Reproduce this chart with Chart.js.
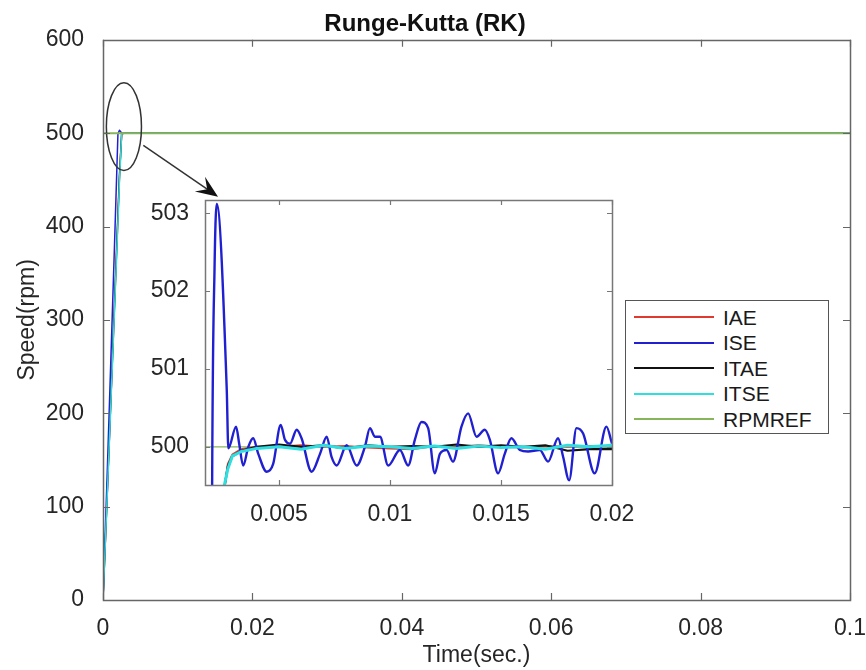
<!DOCTYPE html>
<html>
<head>
<meta charset="utf-8">
<script src="https://cdn.jsdelivr.net/npm/chart.js@4.4.0/dist/chart.umd.min.js"></script>
<style>
  body { margin: 0; background: #fff; }
  #wrap { position: relative; width: 866px; height: 670px; }
  #main { position: absolute; left: 0; top: 0; }
  #inset { position: absolute; left: 140px; top: 190px; }
  #legend {
    position: absolute; left: 625px; top: 300px; width: 204px; height: 134px;
    box-sizing: border-box; border: 1px solid #555; background: #fff;
    padding-top: 2px; font-family: 'Liberation Sans', Arial, sans-serif;
    font-size: 21px; color: #1a1a1a;
  }
  #legend .row { height: 25.5px; line-height: 25.5px; white-space: nowrap; }
  #legend .swatch { display: inline-block; width: 80px; margin-left: 8px; vertical-align: middle; }
  #legend .name { margin-left: 9px; vertical-align: middle; }
</style>
</head>
<body>
<div id="wrap">
  <canvas id="main" width="866" height="670"></canvas>
  <canvas id="inset" width="510" height="345"></canvas>
  <div id="legend"></div>
</div>
<script>
// Series names and colours (same order as the legend)
const seriesNames = ['IAE', 'ISE', 'ITAE', 'ITSE', 'RPMREF'];
const seriesColors = ['#e03a30', '#2020d0', '#111111', '#2fdede', '#86b55a'];
// drawing order: lower number is painted on top
const mainOrder = [5, 3, 4, 2, 1];
const insetOrder = [4, 2, 3, 1, 5];

// Main plot: full run 0..0.1 s
const mainTime = [0, 0.0005, 0.001, 0.0015, 0.002, 0.0022, 0.0025, 0.0028, 0.003, 0.005, 0.01, 0.02, 0.04, 0.06, 0.08, 0.1];
const mainIAE = [0, 100, 205, 310, 415, 455, 499.5, 499.9, 500, 500, 500, 500, 500, 500, 500, 500];
const mainISE = [0, 120, 245, 370, 499.4, 503.1, 500.2, 500.0, 500.2, 500.2, 499.8, 500, 500, 500, 500, 500];
const mainITAE = [0, 100, 203, 306, 410, 452, 499.4, 499.85, 499.95, 500, 500, 500, 500, 500, 500, 500];
const mainITSE = [0, 98, 200, 302, 405, 448, 499.5, 499.85, 499.93, 500, 500, 500, 500, 500, 500, 500];
const mainRef = [500, 500, 500, 500, 500, 500, 500, 500, 500, 500, 500, 500, 500, 500, 500, 500];

// Inset: zoom on 0.0017..0.02 s
const iseTime = [0.0019, 0.00199, 0.0021, 0.0022, 0.00265, 0.00272, 0.00307, 0.00321, 0.00339, 0.00362, 0.00384, 0.00407,
  0.00445, 0.00474, 0.00508, 0.00527, 0.0055, 0.0058, 0.00602, 0.00647, 0.00685, 0.00715, 0.00737, 0.0076, 0.00805,
  0.0085, 0.00887, 0.0091, 0.00932, 0.00955, 0.00992, 0.01045, 0.01082, 0.01112, 0.01142, 0.01172, 0.01202, 0.01225,
  0.01255, 0.01284, 0.01322, 0.01352, 0.0139, 0.01427, 0.0145, 0.01487, 0.01517, 0.01547, 0.01585, 0.01622, 0.01675,
  0.01712, 0.01757, 0.0178, 0.01807, 0.0184, 0.0187, 0.01922, 0.01975, 0.02];
const iseValues = [490, 499.4, 502.3, 503.12, 500.73, 499.98, 500.26, 500.04, 499.76, 500.0, 500.11, 499.91,
  499.68, 499.78, 500.28, 500.09, 500.04, 500.22, 500.11, 499.68, 499.91, 500.13, 499.87, 499.76, 500.02,
  499.76, 500.0, 500.24, 500.13, 500.13, 499.76, 499.96, 499.76, 500.09, 500.32, 500.24, 499.66, 499.91,
  499.96, 499.81, 500.26, 500.43, 500.13, 500.22, 500.09, 499.66, 499.91, 500.11, 499.96, 499.94, 499.96,
  499.81, 500.11, 499.87, 499.57, 500.24, 500.17, 499.66, 500.26, 500.04];

const fineTime = [0.0024, 0.0025, 0.0027, 0.0029, 0.0033, 0.004, 0.005, 0.006, 0.007, 0.008, 0.009, 0.01,
  0.011, 0.012, 0.013, 0.014, 0.015, 0.016, 0.017, 0.018, 0.019, 0.02];
const fineIAE = [494, 499.4, 499.78, 499.9, 499.97, 500.0, 500.0, 500.02, 500.0, 500.01, 499.99, 499.98,
  499.97, 500.01, 500.0, 500.02, 500.0, 499.99, 500.01, 500.0, 500.01, 500.0];
const fineITAE = [494, 499.4, 499.75, 499.88, 499.95, 500.0, 500.03, 500.0, 500.02, 499.98, 500.02, 500.0,
  500.01, 500.0, 500.03, 500.0, 500.02, 500.0, 500.02, 499.95, 499.97, 499.97];
const fineITSE = [494, 499.45, 499.72, 499.88, 499.94, 499.98, 500.0, 499.97, 500.02, 499.98, 500.01, 500.0,
  499.98, 500.01, 499.98, 500.01, 499.99, 500.0, 499.97, 500.02, 500.0, 500.02];
const refTime = [0, 0.02];
const refValues = [500, 500];

// Ticks
const mainXTicks = [0, 0.02, 0.04, 0.06, 0.08, 0.1];
const mainXLabels = ['0', '0.02', '0.04', '0.06', '0.08', '0.1'];
const mainYTicks = [0, 100, 200, 300, 400, 500, 600];
const insetXTicks = [0.005, 0.01, 0.015, 0.02];
const insetXLabels = ['0.005', '0.01', '0.015', '0.02'];
const insetYTicks = [500, 501, 502, 503];

// Zoom marker (ellipse + arrow) in data units of the main plot
const ellipseCenter = [0.0028, 507];
const ellipseRadius = [0.00235, 47];
const arrowFrom = [0.0054, 487];
const arrowTo = [0.0154, 432];

const FONT = "'Liberation Sans', Arial, sans-serif";
Chart.defaults.font.family = FONT;
Chart.defaults.color = '#262626';

function pts(xs, ys) {
  return xs.map((x, i) => ({x: x, y: ys[i]}));
}

// keep the plot area where the fixed sizes put it (no room for overhanging labels)
function noPadX(s, h) { s.height = h; s.paddingLeft = 0; s.paddingRight = 0; }
function noPadY(s, w) { s.width = w; s.paddingTop = 0; s.paddingBottom = 0; }

// Box around the plot area with inward tick marks on all four sides
const boxTicks = {
  id: 'boxTicks',
  beforeDraw(chart, args, opts) {
    const a = chart.chartArea;
    chart.ctx.save();
    chart.ctx.fillStyle = '#fff';
    chart.ctx.fillRect(a.left, a.top, a.width, a.height);
    chart.ctx.restore();
  },
  afterDraw(chart, args, opts) {
    const {ctx, chartArea: a, scales: {x, y}} = chart;
    const len = opts.len;
    ctx.save();
    ctx.strokeStyle = opts.color;
    ctx.lineWidth = 1.2;
    ctx.beginPath();
    x.ticks.forEach(t => {
      const px = Math.round(x.getPixelForValue(t.value)) + 0.5;
      ctx.moveTo(px, a.bottom); ctx.lineTo(px, a.bottom - len);
      ctx.moveTo(px, a.top); ctx.lineTo(px, a.top + len);
    });
    y.ticks.forEach(t => {
      const py = Math.round(y.getPixelForValue(t.value)) + 0.5;
      ctx.moveTo(a.left, py); ctx.lineTo(a.left + len, py);
      ctx.moveTo(a.right, py); ctx.lineTo(a.right - len, py);
    });
    ctx.stroke();
    ctx.lineWidth = 1.5;
    ctx.strokeRect(Math.round(a.left) + 0.5, Math.round(a.top) + 0.5, Math.round(a.width), Math.round(a.height));
    ctx.restore();
  }
};

// Ellipse around the overshoot and the arrow pointing to the inset
const zoomMark = {
  id: 'zoomMark',
  afterDatasetsDraw(chart) {
    const {ctx, scales: {x, y}} = chart;
    const cx = x.getPixelForValue(ellipseCenter[0]);
    const cy = y.getPixelForValue(ellipseCenter[1]);
    const rx = x.getPixelForValue(ellipseCenter[0] + ellipseRadius[0]) - cx;
    const ry = cy - y.getPixelForValue(ellipseCenter[1] + ellipseRadius[1]);
    ctx.save();
    ctx.strokeStyle = '#333';
    ctx.lineWidth = 1.5;
    ctx.beginPath();
    ctx.ellipse(cx, cy, rx, ry, 0, 0, 2 * Math.PI);
    ctx.stroke();

    const x1 = x.getPixelForValue(arrowFrom[0]), y1 = y.getPixelForValue(arrowFrom[1]);
    const x2 = x.getPixelForValue(arrowTo[0]), y2 = y.getPixelForValue(arrowTo[1]);
    const ang = Math.atan2(y2 - y1, x2 - x1);
    const hl = 22, hw = 9;
    ctx.beginPath();
    ctx.moveTo(x1, y1);
    ctx.lineTo(x2 - hl * 0.6 * Math.cos(ang), y2 - hl * 0.6 * Math.sin(ang));
    ctx.stroke();
    ctx.fillStyle = '#111';
    ctx.beginPath();
    ctx.moveTo(x2, y2);
    ctx.lineTo(x2 - hl * Math.cos(ang) + hw * Math.sin(ang), y2 - hl * Math.sin(ang) - hw * Math.cos(ang));
    ctx.lineTo(x2 - hl * 0.6 * Math.cos(ang), y2 - hl * 0.6 * Math.sin(ang));
    ctx.lineTo(x2 - hl * Math.cos(ang) - hw * Math.sin(ang), y2 - hl * Math.sin(ang) + hw * Math.cos(ang));
    ctx.closePath();
    ctx.fill();
    ctx.restore();
  }
};

function lineSet(i, data, width, order) {
  return {
    label: seriesNames[i],
    data: data,
    borderColor: seriesColors[i],
    backgroundColor: seriesColors[i],
    borderWidth: width,
    pointRadius: 0,
    fill: false,
    order: order[i],
    borderJoinStyle: 'round'
  };
}

// ---- main chart ----
new Chart(document.getElementById('main'), {
  type: 'line',
  data: {
    datasets: [
      lineSet(0, pts(mainTime, mainIAE), 1.5, mainOrder),
      lineSet(1, pts(mainTime, mainISE), 1.5, mainOrder),
      lineSet(2, pts(mainTime, mainITAE), 1.5, mainOrder),
      lineSet(3, pts(mainTime, mainITSE), 1.5, mainOrder),
      lineSet(4, pts(mainTime, mainRef), 2, mainOrder)
    ]
  },
  options: {
    responsive: false,
    animation: false,
    layout: { padding: { left: 0, right: 16, top: 0, bottom: 0 } },
    plugins: {
      legend: { display: false },
      tooltip: { enabled: false },
      title: {
        display: true,
        text: 'Runge-Kutta (RK)',
        color: '#111',
        font: { size: 24, weight: 'bold' },
        padding: { top: 10, bottom: 1 }
      },
      boxTicks: { len: 7, color: '#666' }
    },
    scales: {
      x: {
        type: 'linear',
        min: 0,
        max: 0.1,
        afterBuildTicks: s => { s.ticks = mainXTicks.map(v => ({value: v})); },
        afterFit: s => noPadX(s, 70),
        grid: { display: false },
        border: { display: false },
        ticks: {
          padding: 7,
          font: { size: 23 },
          maxRotation: 0,
          callback: (v, i) => mainXLabels[i]
        },
        title: { display: true, text: 'Time(sec.)', font: { size: 23 }, padding: { bottom: 1 } }
      },
      y: {
        type: 'linear',
        min: 0,
        max: 600,
        afterBuildTicks: s => { s.ticks = mainYTicks.map(v => ({value: v})); },
        afterFit: s => noPadY(s, 103),
        grid: { display: false },
        border: { display: false },
        ticks: { padding: 11, font: { size: 23 } },
        title: { display: true, text: 'Speed(rpm)', font: { size: 23 }, padding: { top: 14 } }
      }
    }
  },
  plugins: [boxTicks, zoomMark]
});

// ---- inset chart ----
new Chart(document.getElementById('inset'), {
  type: 'line',
  data: {
    datasets: [
      lineSet(0, pts(fineTime, fineIAE), 2, insetOrder),
      Object.assign(lineSet(1, pts(iseTime, iseValues), 2.4, insetOrder), { cubicInterpolationMode: 'monotone' }),
      lineSet(2, pts(fineTime, fineITAE), 2.2, insetOrder),
      lineSet(3, pts(fineTime, fineITSE), 3, insetOrder),
      lineSet(4, pts(refTime, refValues), 1.2, insetOrder)
    ]
  },
  options: {
    responsive: false,
    animation: false,
    layout: { padding: { left: 0, right: 38, top: 10, bottom: 0 } },
    plugins: {
      legend: { display: false },
      tooltip: { enabled: false },
      boxTicks: { len: 5, color: '#777' }
    },
    scales: {
      x: {
        type: 'linear',
        min: 0.00167,
        max: 0.02,
        afterBuildTicks: s => { s.ticks = insetXTicks.map(v => ({value: v})); },
        afterFit: s => noPadX(s, 50),
        grid: { display: false },
        border: { display: false },
        ticks: {
          padding: 8,
          font: { size: 23 },
          maxRotation: 0,
          callback: (v, i) => insetXLabels[i]
        }
      },
      y: {
        type: 'linear',
        min: 499.51,
        max: 503.17,
        afterBuildTicks: s => { s.ticks = insetYTicks.map(v => ({value: v})); },
        afterFit: s => noPadY(s, 65),
        grid: { display: false },
        border: { display: false },
        ticks: { padding: 8, font: { size: 23 } }
      }
    }
  },
  plugins: [boxTicks]
});

// ---- legend box ----
const legendBox = document.getElementById('legend');
seriesNames.forEach((name, i) => {
  const row = document.createElement('div');
  row.className = 'row';
  const sw = document.createElement('span');
  sw.className = 'swatch';
  sw.style.borderTop = '2px solid ' + seriesColors[i];
  const label = document.createElement('span');
  label.className = 'name';
  label.textContent = name;
  row.appendChild(sw);
  row.appendChild(label);
  legendBox.appendChild(row);
});
</script>
</body>
</html>
